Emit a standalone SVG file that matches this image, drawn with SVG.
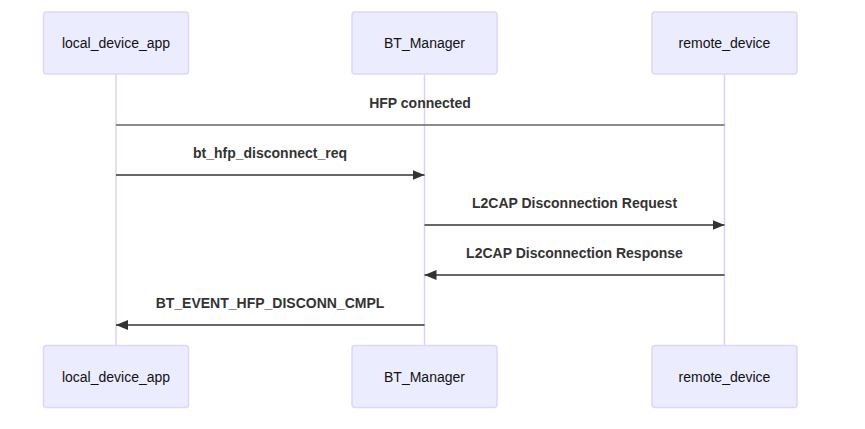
<svg xmlns="http://www.w3.org/2000/svg" width="865" height="429" viewBox="0 0 865 429">
<style>
.actor rect{fill:#ECECFF;stroke:#E0D6F8;stroke-width:1.5}
.actor text{font-family:"Liberation Sans",Arial,sans-serif;font-size:14px;fill:#111;text-anchor:middle;dominant-baseline:central}
.life{stroke:#DCD0F5;stroke-width:1.5}
.msg{stroke:#333;stroke-width:1.6;fill:none}
.lbl{font-family:"Liberation Sans",Arial,sans-serif;font-size:14px;font-weight:bold;fill:#333;text-anchor:middle}
</style>
<defs>
<marker id="ah" viewBox="0 0 12 10" refX="12" refY="5" markerWidth="12" markerHeight="10" markerUnits="userSpaceOnUse" orient="auto">
<path d="M0,0 L12,5 L0,10 Z" fill="#333"/>
</marker>
</defs>
<g id="lifelines">
<line class="life" x1="116" y1="74" x2="116" y2="345"/>
<line class="life" x1="424.5" y1="74" x2="424.5" y2="345"/>
<line class="life" x1="724.5" y1="74" x2="724.5" y2="345"/>
</g>
<g id="local_device_app_top" class="actor"><rect x="43.5" y="12" width="145" height="62" rx="3"/><text x="116" y="43">local_device_app</text></g>
<g id="BT_Manager_top" class="actor"><rect x="352" y="12" width="145" height="62" rx="3"/><text x="424.5" y="43">BT_Manager</text></g>
<g id="remote_device_top" class="actor"><rect x="652" y="12" width="145" height="62" rx="3"/><text x="724.5" y="43">remote_device</text></g>
<g id="local_device_app_bottom" class="actor"><rect x="43.5" y="345.5" width="145" height="62" rx="3"/><text x="116" y="377">local_device_app</text></g>
<g id="BT_Manager_bottom" class="actor"><rect x="352" y="345.5" width="145" height="62" rx="3"/><text x="424.5" y="377">BT_Manager</text></g>
<g id="remote_device_bottom" class="actor"><rect x="652" y="345.5" width="145" height="62" rx="3"/><text x="724.5" y="377">remote_device</text></g>
<g id="connectors">
<line class="msg" x1="116" y1="125" x2="724.5" y2="125" style="stroke:#666"/>
<text class="lbl" x="420" y="108">HFP connected</text>
<line class="msg" x1="116" y1="175" x2="424.5" y2="175" marker-end="url(#ah)"/>
<text class="lbl" x="270" y="158">bt_hfp_disconnect_req</text>
<line class="msg" x1="424.5" y1="225" x2="724.5" y2="225" marker-end="url(#ah)"/>
<text class="lbl" x="574.5" y="208">L2CAP Disconnection Request</text>
<line class="msg" x1="724.5" y1="275" x2="424.5" y2="275" marker-end="url(#ah)"/>
<text class="lbl" x="574.5" y="258">L2CAP Disconnection Response</text>
<line class="msg" x1="424.5" y1="325" x2="116" y2="325" marker-end="url(#ah)"/>
<text class="lbl" x="270" y="308">BT_EVENT_HFP_DISCONN_CMPL</text>
</g>
</svg>
